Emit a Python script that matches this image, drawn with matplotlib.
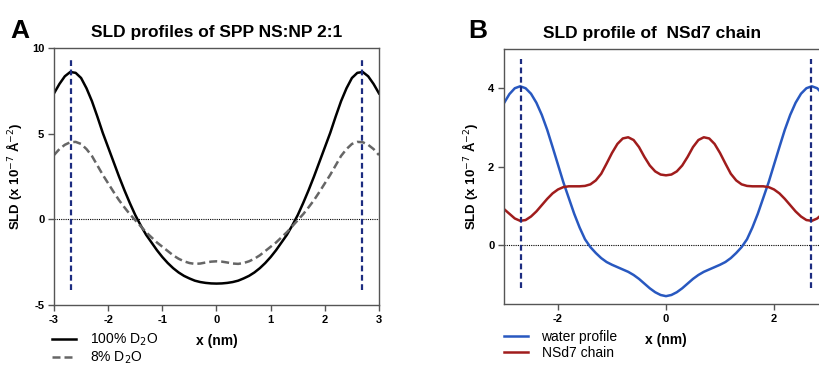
import matplotlib

matplotlib.use("Agg")
import matplotlib.pyplot as plt
import numpy as np

plt.rcParams["font.family"] = ["Liberation Sans", "DejaVu Sans"]
plt.rcParams["axes.unicode_minus"] = False

# x positions (nm), shared by both panels
x_nm = np.round(np.arange(-3.0, 3.0001, 0.1), 1)

# panel A: SLD profiles of SPP NS:NP 2:1
sld_100_d2o = [
    7.35, 7.9, 8.35, 8.6, 8.55, 8.25, 7.65, 6.9, 6.0, 5.05,
    4.2, 3.35, 2.5, 1.7, 0.95, 0.25, -0.35, -0.9, -1.35, -1.8,
    -2.2, -2.55, -2.85, -3.1, -3.3, -3.45, -3.58, -3.66, -3.71, -3.74,
    -3.75,
    -3.74, -3.71, -3.66, -3.58, -3.45, -3.3, -3.1, -2.85, -2.55, -2.2,
    -1.8, -1.35, -0.9, -0.35, 0.25, 0.95, 1.7, 2.5, 3.35, 4.2,
    5.05, 6.0, 6.9, 7.65, 8.25, 8.55, 8.6, 8.35, 7.9, 7.35,
]
sld_8_d2o = [
    3.75, 4.1, 4.35, 4.5, 4.52, 4.4, 4.1, 3.7, 3.15, 2.6,
    2.1, 1.6, 1.12, 0.7, 0.3, -0.05, -0.4, -0.75, -1.05, -1.35,
    -1.6, -1.85, -2.1, -2.3, -2.45, -2.55, -2.6, -2.58, -2.52, -2.47,
    -2.45,
    -2.47, -2.52, -2.58, -2.6, -2.55, -2.45, -2.3, -2.1, -1.85, -1.6,
    -1.35, -1.05, -0.75, -0.4, -0.05, 0.3, 0.7, 1.12, 1.6, 2.1,
    2.6, 3.15, 3.7, 4.1, 4.4, 4.52, 4.5, 4.35, 4.1, 3.75,
]

# panel B: SLD profile of NSd7 chain
water_profile = [
    3.62, 3.85, 4.0, 4.05, 4.0, 3.86, 3.63, 3.32, 2.94, 2.5,
    2.05, 1.6, 1.2, 0.8, 0.45, 0.15, -0.05, -0.2, -0.33, -0.43,
    -0.5, -0.56, -0.62, -0.68, -0.76, -0.86, -0.98, -1.1, -1.2, -1.27,
    -1.3,
    -1.27, -1.2, -1.1, -0.98, -0.86, -0.76, -0.68, -0.62, -0.56, -0.5,
    -0.43, -0.33, -0.2, -0.05, 0.15, 0.45, 0.8, 1.2, 1.6, 2.05,
    2.5, 2.94, 3.32, 3.63, 3.86, 4.0, 4.05, 4.0, 3.85, 3.62,
]
nsd7_chain = [
    0.92, 0.8, 0.68, 0.62, 0.64, 0.73, 0.86, 1.02, 1.18, 1.32,
    1.42, 1.48, 1.5, 1.5, 1.5, 1.51, 1.55, 1.65, 1.82, 2.08,
    2.35, 2.58, 2.72, 2.75, 2.68, 2.5, 2.25, 2.03, 1.88, 1.8,
    1.78,
    1.8, 1.88, 2.03, 2.25, 2.5, 2.68, 2.75, 2.72, 2.58, 2.35,
    2.08, 1.82, 1.65, 1.55, 1.51, 1.5, 1.5, 1.5, 1.48, 1.42,
    1.32, 1.18, 1.02, 0.86, 0.73, 0.64, 0.62, 0.68, 0.8, 0.92,
]

# positions of the dashed markers and their vertical extent
marker_x = [-2.68, 2.68]
marker_span_a = (-4.1, 9.3)
marker_span_b = (-1.1, 4.75)

navy = "#1c2c80"
spine_color = "#555555"
ylabel_text = "SLD (x 10$^{-7}$ Å$^{-2}$)"


def style_axes(ax):
    for side in ax.spines.values():
        side.set_color(spine_color)
        side.set_linewidth(1.0)
    ax.tick_params(direction="out", length=4, width=1, color=spine_color,
                   labelsize=8, pad=3)
    for lbl in ax.get_xticklabels() + ax.get_yticklabels():
        lbl.set_fontweight("bold")


fig = plt.figure(figsize=(8.2, 3.66), dpi=100)

# ---- panel A ----
ax_a = fig.add_axes([54 / 820, 1 - 305 / 366, 325 / 820, 257 / 366])
ax_a.axhline(0, color="black", lw=0.8, ls=(0, (1, 1)))
line_100, = ax_a.plot(x_nm, sld_100_d2o, color="black", lw=1.8)
line_8, = ax_a.plot(x_nm, sld_8_d2o, color="#666666", lw=1.8, dashes=(3.2, 1.6))
for mx in marker_x:
    ax_a.plot([mx, mx], marker_span_a, color=navy, lw=1.6, dashes=(2.6, 1.6))
ax_a.set_xlim(-3, 3)
ax_a.set_ylim(-5, 10)
ax_a.set_xticks([-3, -2, -1, 0, 1, 2, 3])
ax_a.set_yticks([-5, 0, 5, 10])
style_axes(ax_a)
ax_a.set_title("SLD profiles of SPP NS:NP 2:1", fontsize=12.5,
               fontweight="bold", pad=8)
ax_a.set_ylabel(ylabel_text, fontsize=9.5, fontweight="bold", labelpad=6)
ax_a.set_xlabel("x (nm)", fontsize=10, fontweight="bold", labelpad=7)
ax_a.legend([line_100, line_8], ["100% D$_2$O", "8% D$_2$O"],
            loc="upper left", bbox_to_anchor=(52 / 820, 1 - 332 / 366),
            bbox_transform=fig.transFigure, frameon=False, fontsize=10,
            handlelength=1.7, handletextpad=1.0, labelspacing=0.12,
            borderpad=0, borderaxespad=0)
fig.text(10 / 820, 1 - 38 / 366, "A", fontsize=19, fontweight="bold")

# ---- panel B ----
ax_b = fig.add_axes([504 / 820, 1 - 304 / 366, 324 / 820, 255 / 366])
ax_b.axhline(0, color="black", lw=0.8, ls=(0, (1, 1)))
line_w, = ax_b.plot(x_nm, water_profile, color="#2858c0", lw=1.8)
line_n, = ax_b.plot(x_nm, nsd7_chain, color="#a01c1c", lw=1.8)
for mx in marker_x:
    ax_b.plot([mx, mx], marker_span_b, color=navy, lw=1.6, dashes=(2.6, 1.6))
ax_b.set_xlim(-3, 3)
ax_b.set_ylim(-1.5, 5)
ax_b.set_xticks([-2, 0, 2])
ax_b.set_yticks([0, 2, 4])
style_axes(ax_b)
ax_b.set_ylabel(ylabel_text, fontsize=9.5, fontweight="bold", labelpad=6)
ax_b.set_xlabel("x (nm)", fontsize=10, fontweight="bold", labelpad=7)
ax_b.legend([line_w, line_n], ["water profile", "NSd7 chain"],
            loc="upper left", bbox_to_anchor=(504 / 820, 1 - 330 / 366),
            bbox_transform=fig.transFigure, frameon=False, fontsize=10,
            handlelength=1.7, handletextpad=1.0, labelspacing=0.12,
            borderpad=0, borderaxespad=0)
fig.text(652 / 820, 1 - 38 / 366, "SLD profile of  NSd7 chain", fontsize=12.5,
         fontweight="bold", ha="center")
fig.text(468 / 820, 1 - 38 / 366, "B", fontsize=19, fontweight="bold")

fig.savefig("out.png", dpi=100)
